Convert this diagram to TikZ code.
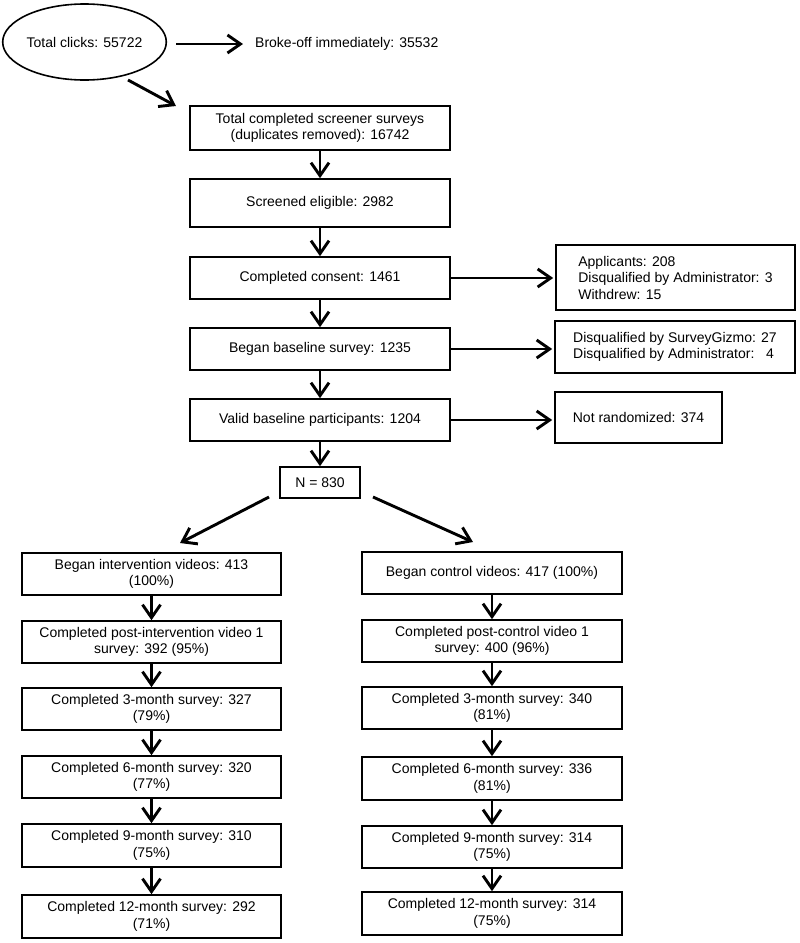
\documentclass[tikz,border=0pt]{standalone}
\usepackage{fontspec}
\setmainfont{Liberation Sans}
\usetikzlibrary{arrows.meta,shapes.geometric}
\begin{document}
\begin{tikzpicture}[x=1pt,y=-1pt,
  every node/.style={font=\fontsize{14}{16.5}\selectfont},
  flowbox/.style={draw, line width=1.6pt, align=center, inner sep=1pt, minimum width=260pt, minimum height=42pt},
  sidebox/.style={draw, line width=1.6pt, align=left, inner sep=1pt},
  arr/.style={-{Straight Barb[length=13pt,width=18pt]}, line width=2.9pt}]
\useasboundingbox (0,0) rectangle (800,943);
% top part
\node[ellipse, draw, line width=1.6pt, minimum width=157pt, minimum height=76pt, inner sep=0pt] (ell) at (84.5,42) {Total clicks: 55722};
\node[anchor=west, inner sep=0pt] (broke) at (255,44) {Broke-off immediately: 35532};
\node[flowbox, minimum height=44pt] (b1) at (320,128) {Total completed screener surveys\\(duplicates removed): 16742};
\node[flowbox, minimum height=48pt] (b2) at (320,203) {Screened eligible: 2982};
\node[flowbox] (b3) at (320,278) {Completed consent: 1461};
\node[flowbox] (b4) at (320,349) {Began baseline survey: 1235};
\node[flowbox] (b5) at (320,420) {Valid baseline participants: 1204};
\node[flowbox, minimum width=80pt, minimum height=31pt] (n) at (320,482.5) {N = 830};
% side boxes
\node[sidebox, minimum width=239pt, minimum height=65pt] (r1) at (675.5,277.5) {Applicants: 208\\Disqualified by Administrator: 3\\Withdrew: 15};
\node[sidebox, minimum width=240pt, minimum height=52pt] (r2) at (675,347) {Disqualified by SurveyGizmo: 27\\Disqualified by Administrator:\ \ \ 4};
\node[flowbox, minimum width=167pt, minimum height=51pt] (r3) at (638.5,417.5) {Not randomized: 374};
% left column
\node[flowbox, minimum width=259pt] (L1) at (151.5,574) {Began intervention videos: 413\\(100\%)};
\node[flowbox, minimum width=259pt] (L2) at (151.5,642) {Completed post-intervention video 1\\survey: 392 (95\%)};
\node[flowbox, minimum width=259pt] (L3) at (151.5,709) {Completed 3-month survey: 327\\(79\%)};
\node[flowbox, minimum width=259pt] (L4) at (151.5,777) {Completed 6-month survey: 320\\(77\%)};
\node[flowbox, minimum width=259pt, minimum height=43pt] (L5) at (151.5,845.5) {Completed 9-month survey: 310\\(75\%)};
\node[flowbox, minimum width=259pt, minimum height=43pt] (L6) at (151.5,916.5) {Completed 12-month survey: 292\\(71\%)};
% right column
\node[flowbox] (R1) at (492,573) {Began control videos: 417 (100\%)};
\node[flowbox] (R2) at (492,641) {Completed post-control video 1\\survey: 400 (96\%)};
\node[flowbox] (R3) at (492,708) {Completed 3-month survey: 340\\(81\%)};
\node[flowbox, minimum height=43pt] (R4) at (492,778.5) {Completed 6-month survey: 336\\(81\%)};
\node[flowbox] (R5) at (492,847) {Completed 9-month survey: 314\\(75\%)};
\node[flowbox, minimum height=43pt] (R6) at (492,913.5) {Completed 12-month survey: 314\\(75\%)};
% coordinates for free-ended connectors
\coordinate (d1s) at (128,80);
\coordinate (d1e) at (176,106);
\coordinate (nls) at (269,497);
\coordinate (nle) at (180,543);
\coordinate (nrs) at (373,497);
\coordinate (nre) at (473,542);
% connectors
\draw[arr, shorten <=9pt, shorten >=12pt] (ell.east |- broke.west) -- (broke.west);
\draw[arr] (d1s) -- (d1e);
\draw[arr] (b1.south) -- (b2.north);
\draw[arr] (b2.south) -- (b3.north);
\draw[arr] (b3.south) -- (b4.north);
\draw[arr] (b4.south) -- (b5.north);
\draw[arr] (b5.south) -- (n.north);
\draw[arr, shorten >=2pt] (b3.east) -- (b3.east -| r1.west);
\draw[arr, shorten >=2pt] (b4.east) -- (b4.east -| r2.west);
\draw[arr, shorten >=2pt] (b5.east) -- (b5.east -| r3.west);
\draw[arr] (nls) -- (nle);
\draw[arr] (nrs) -- (nre);
\draw[arr] (L1.south) -- (L2.north);
\draw[arr] (L2.south) -- (L3.north);
\draw[arr] (L3.south) -- (L4.north);
\draw[arr] (L4.south) -- (L5.north);
\draw[arr] (L5.south) -- (L6.north);
\draw[arr] (R1.south) -- (R2.north);
\draw[arr] (R2.south) -- (R3.north);
\draw[arr] (R3.south) -- (R4.north);
\draw[arr] (R4.south) -- (R5.north);
\draw[arr] (R5.south) -- (R6.north);
\end{tikzpicture}
\end{document}
